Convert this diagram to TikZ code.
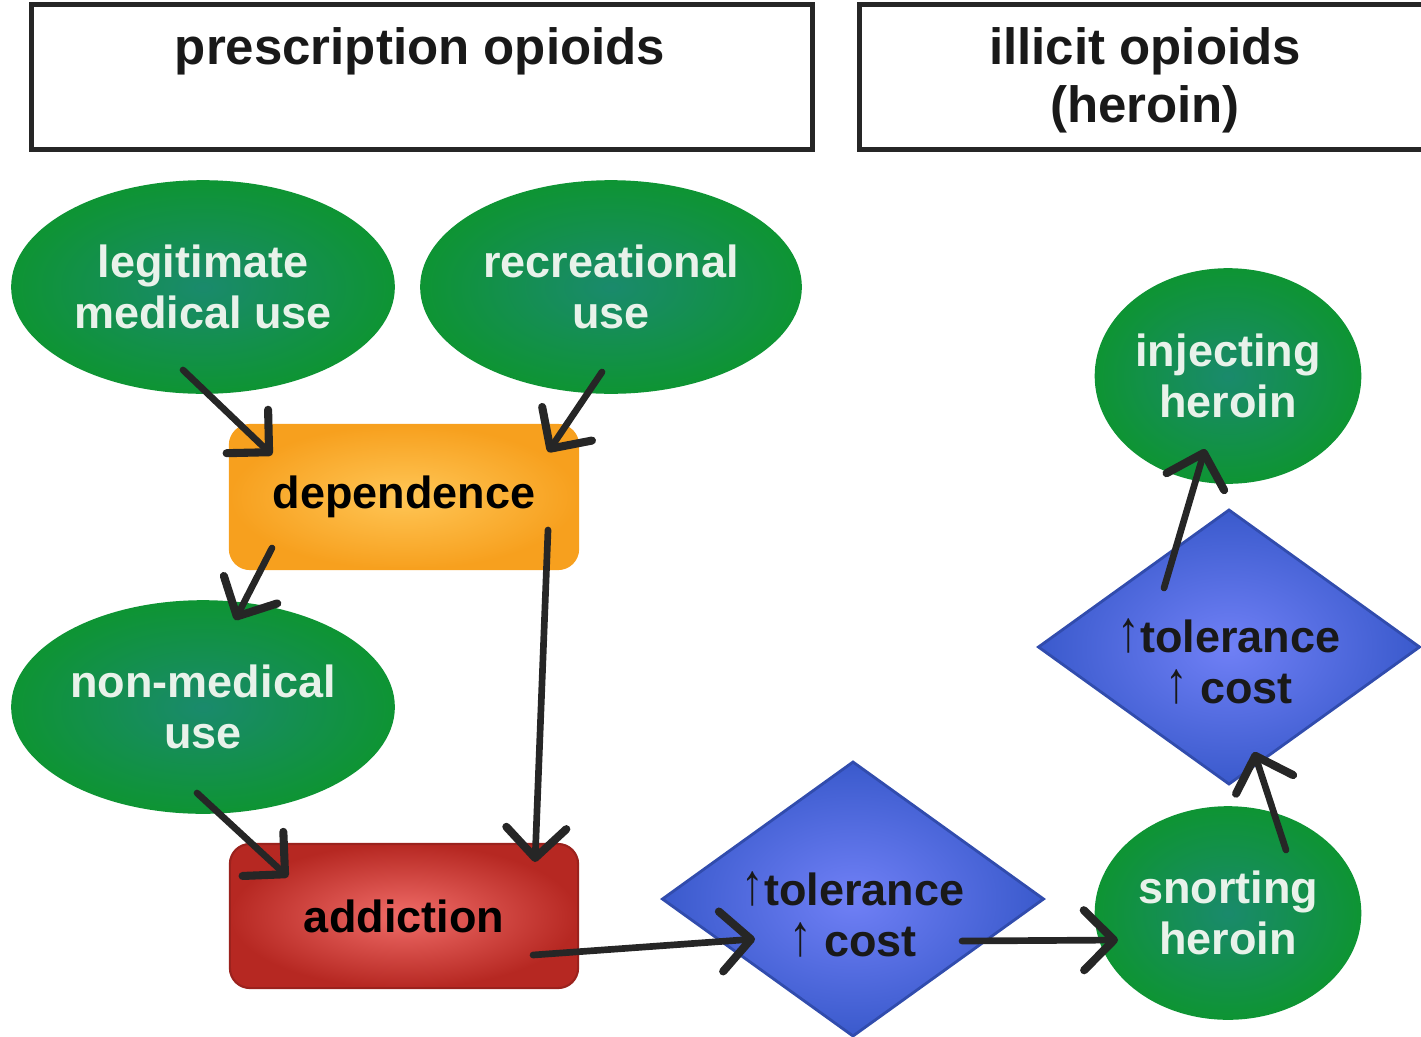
\documentclass[tikz,border=0pt]{standalone}
\usepackage{fontspec}
\usepackage{graphicx}
\setmainfont{Liberation Sans}
\usetikzlibrary{arrows.meta, shapes.geometric, positioning}
\definecolor{ovalin}{RGB}{26,138,108}
\definecolor{ovalout}{RGB}{14,148,52}
\definecolor{ovaltext}{RGB}{232,242,234}
\definecolor{depin}{RGB}{255,198,86}
\definecolor{depout}{RGB}{247,160,30}
\definecolor{addin}{RGB}{240,108,104}
\definecolor{addout}{RGB}{182,40,34}
\definecolor{tolin}{RGB}{112,128,246}
\definecolor{tolout}{RGB}{58,90,204}
\newcommand{\upmark}{\raisebox{0.3pt}{\scalebox{1}[1.3]{↑}}}

\begin{document}
\begin{tikzpicture}[x=0.01cm, y=-0.01cm,
    font=\fontsize{12.8}{14.5}\selectfont\bfseries,
    oval/.style={ellipse, shading=radial, inner color=ovalin, outer color=ovalout,
      draw=ovalout, line width=1pt, text=ovaltext, align=center, inner sep=0pt,
      minimum height=2.1cm},
    stage/.style={rectangle, rounded corners=0.2cm, minimum width=3.48cm,
      minimum height=1.44cm, line width=0.6pt, shading=radial},
    tolbox/.style={diamond, aspect=1.4, inner sep=0pt, minimum width=3.82cm,
      minimum height=2.75cm, shading=radial, inner color=tolin, outer color=tolout,
      draw=tolout!85!black, line width=0.8pt},
    toltext/.style={align=center, text=black!90},
    headbox/.style={draw=black!85, line width=1.5pt, minimum height=1.45cm, inner sep=0pt},
    headtext/.style={font=\fontsize{14.5}{16.5}\selectfont\bfseries, align=center, text=black!90},
    flow/.style={draw=black!85, line width=1.9pt, line cap=round,
      -{Straight Barb[length=0.3cm, width=0.6cm, line width=2.3pt, round]}}]

  \useasboundingbox (0,0) rectangle (1421,1036);

  % headings
  \node[headbox, minimum width=7.8cm] (rxbox) at (422,77) {};
  \node[headtext] (rxtitle) at (420,51) {prescription opioids};
  \node[headbox, minimum width=5.8cm] (ilbox) at (1150,77) {};
  \node[headtext] (iltitle) at (1145,80) {illicit opioids\\(heroin)};

  % prescription side
  \node[oval, minimum width=3.8cm] (legit) at (203,287) {legitimate\\medical use};
  \node[oval, minimum width=3.78cm] (recr) at (611,287) {recreational\\use};
  \node[stage, inner color=depin, outer color=depout, draw=depout] (dep) at (404,497) {dependence};
  \node[oval, minimum width=3.8cm] (nonmed) at (203,707) {non-medical\\use};
  \node[stage, inner color=addin, outer color=addout, draw=addout!85!black] (addict) at (404,916) {addiction};

  % illicit side
  \node[tolbox] (tol1) at (853,899) {};
  \node[toltext] (tol1txt) at ([shift={(0,15)}]tol1.center) {\upmark tolerance\\\upmark\ cost};
  \node[oval, minimum width=2.63cm] (snort) at (1228,913) {snorting\\heroin};
  \node[tolbox] (tol2) at (1229,647) {};
  \node[toltext] (tol2txt) at ([shift={(0,14)}]tol2.center) {\upmark tolerance\\\upmark\ cost};
  \node[oval, minimum width=2.63cm, minimum height=2.12cm] (inject) at (1228,376) {injecting\\heroin};

  % connectors
  \draw[flow] ([shift={(-20,83)}]legit.center) -- ([shift={(-132,-42)}]dep.center);
  \draw[flow] ([shift={(-9,85)}]recr.center) -- ([shift={(144,-45)}]dep.center);
  \draw[flow] ([shift={(-132,51)}]dep.center) -- ([shift={(32,-87)}]nonmed.center);
  \draw[flow] ([shift={(144,33)}]dep.center) -- ([shift={(131,-54)}]addict.center);
  \draw[flow] ([shift={(-6,86)}]nonmed.center) -- ([shift={(-116,-39)}]addict.center);
  \draw[flow] ([shift={(129,39)}]addict.center) -- ([shift={(-98,40)}]tol1.center);
  \draw[flow] ([shift={(109,42)}]tol1.center) -- ([shift={(-110,27)}]snort.center);
  \draw[flow] ([shift={(58,-63)}]snort.center) -- ([shift={(25,105)}]tol2.center);
  \draw[flow] ([shift={(-65,-59)}]tol2.center) -- ([shift={(-23,73)}]inject.center);
\end{tikzpicture}
\end{document}
